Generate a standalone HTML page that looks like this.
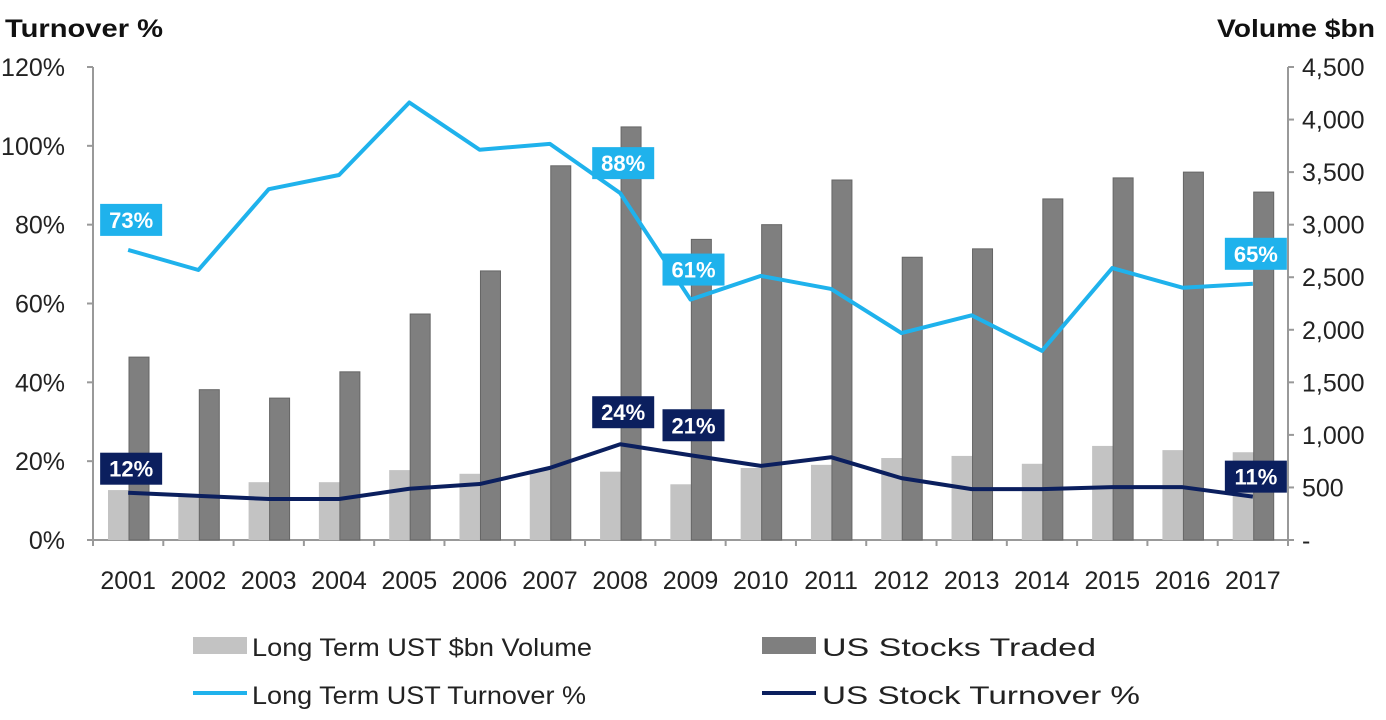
<!DOCTYPE html>
<html><head><meta charset="utf-8"><style>
body{margin:0;background:#fff;}
svg text{font-family:"Liberation Sans",Arial,sans-serif;}
</style></head><body>
<svg id="c" width="1386" height="715" viewBox="0 0 1386 715" xmlns="http://www.w3.org/2000/svg">
<text x="5" y="37" font-size="25" font-weight="bold" fill="#111" textLength="158" lengthAdjust="spacingAndGlyphs">Turnover %</text>
<text x="1217" y="37" font-size="25" font-weight="bold" fill="#111" textLength="158" lengthAdjust="spacingAndGlyphs">Volume $bn</text>
<g id="plot"></g>
<g font-size="25" fill="#222">
<rect x="193" y="637" width="54" height="17" fill="#c3c3c3"/>
<text x="252" y="656" textLength="340" lengthAdjust="spacingAndGlyphs">Long Term UST  $bn Volume</text>
<rect x="762" y="637" width="54" height="17" fill="#7f7f7f"/>
<text x="822" y="656" textLength="274" lengthAdjust="spacingAndGlyphs">US Stocks Traded</text>
<line x1="193" y1="693" x2="247" y2="693" stroke="#1fb2ec" stroke-width="4"/>
<text x="252" y="704" textLength="334" lengthAdjust="spacingAndGlyphs">Long Term UST  Turnover  %</text>
<line x1="762" y1="693" x2="816" y2="693" stroke="#0b1f5e" stroke-width="4"/>
<text x="822" y="704" textLength="318" lengthAdjust="spacingAndGlyphs">US Stock Turnover %</text>
</g>
</svg>
<script>
const years=["2001","2002","2003","2004","2005","2006","2007","2008","2009","2010","2011","2012","2013","2014","2015","2016","2017"];
const ustVolume=[475,410,550,550,665,630,665,650,530,685,715,780,800,725,895,855,835];
const stocksTraded=[1740,1430,1350,1600,2150,2560,3560,3930,2860,3000,3425,2690,2770,3245,3445,3500,3310];
const ustTurnover=[73.6,68.5,89,92.6,111,99,100.5,88,61,67,63.7,52.5,57,48,69,64,65];
const stockTurnover=[12,11.2,10.4,10.4,13,14.2,18.3,24.3,21.5,18.8,21,15.7,12.9,12.9,13.4,13.4,11];
const leftTicks=["0%","20%","40%","60%","80%","100%","120%"];
const rightTicks=["-","500","1,000","1,500","2,000","2,500","3,000","3,500","4,000","4,500"];
const ustLabels=[[0,"73%",-30],[7,"88%",-30],[8,"61%",-30],[16,"65%",-30]];
const stockLabels=[[0,"12%",-24],[7,"24%",-32],[8,"21%",-30],[16,"11%",-20]];

const NS="http://www.w3.org/2000/svg";
const g=document.getElementById('plot');
const X0=93,X1=1288,Y0=540,Y1=67,bw=(X1-X0)/years.length;
const yL=v=>Y0-(v/120)*(Y0-Y1);
const yR=v=>Y0-(v/4500)*(Y0-Y1);
const xC=i=>X0+bw*(i+0.5);
function mk(t,a){const e=document.createElementNS(NS,t);for(const k in a)e.setAttribute(k,a[k]);g.appendChild(e);return e;}
let e=mk('line',{x1:X0,y1:Y1,x2:X0,y2:Y0,stroke:'#999','stroke-width':2});


e=mk('line',{x1:X1,y1:Y1,x2:X1,y2:Y0,stroke:'#999','stroke-width':2});


e=mk('line',{x1:X0,y1:Y0,x2:X1,y2:Y0,stroke:'#999','stroke-width':2});


leftTicks.forEach((t,i)=>{const y=yL(i*20);
 mk('line',{x1:X0-6,y1:y,x2:X0,y2:y,stroke:'#999','stroke-width':2});
 const tx=mk('text',{x:X0-28,y:y+9,'font-size':25,fill:'#222','text-anchor':'end'});tx.textContent=t;
 
 });
rightTicks.forEach((t,i)=>{const y=yR(i*500);
 mk('line',{x1:X1,y1:y,x2:X1+6,y2:y,stroke:'#999','stroke-width':2});
 const tx=mk('text',{x:X1+14,y:y+9,'font-size':25,fill:'#222'});tx.textContent=t;
 
 });
for(let i=0;i<=years.length;i++){const x=X0+bw*i;mk('line',{x1:x,y1:Y0,x2:x,y2:Y0+6,stroke:'#999','stroke-width':2});}
years.forEach((yr,i)=>{
 const b1=mk('rect',{x:X0+bw*i+15,y:yR(ustVolume[i]),width:21,height:Y0-yR(ustVolume[i]),fill:'#c3c3c3'});
 
 
 const b2=mk('rect',{x:X0+bw*i+36,y:yR(stocksTraded[i]),width:20,height:Y0-yR(stocksTraded[i]),fill:'#7f7f7f',stroke:'#666','stroke-width':1});
 
 
 const t=mk('text',{x:xC(i),y:589,'font-size':25,fill:'#222','text-anchor':'middle'});t.textContent=yr;
 
 
});
function line(vals,col,name){
 const p=mk('polyline',{points:vals.map((v,i)=>xC(i)+','+yL(v)).join(' '),fill:'none',stroke:col,'stroke-width':4,'stroke-linejoin':'round'});
 
 
}
line(ustTurnover,'#1fb2ec','line-ust-turnover');
line(stockTurnover,'#0b1f5e','line-stock-turnover');
function labels(arr,vals,col,name){
 arr.forEach(([i,t,dy])=>{const cx=xC(i)+3,cy=yL(vals[i])+dy;
  const r=mk('rect',{x:cx-31,y:cy-16,width:62,height:32,fill:col});
  
  
  const tx=mk('text',{x:cx,y:cy+8,'font-size':22,'font-weight':'bold',fill:'#fff','text-anchor':'middle'});tx.textContent=t;
  
  });
}
labels(ustLabels,ustTurnover,'#1fb2ec','ust-turnover-label');
labels(stockLabels,stockTurnover,'#0b1f5e','stock-turnover-label');
</script>
</body></html>
